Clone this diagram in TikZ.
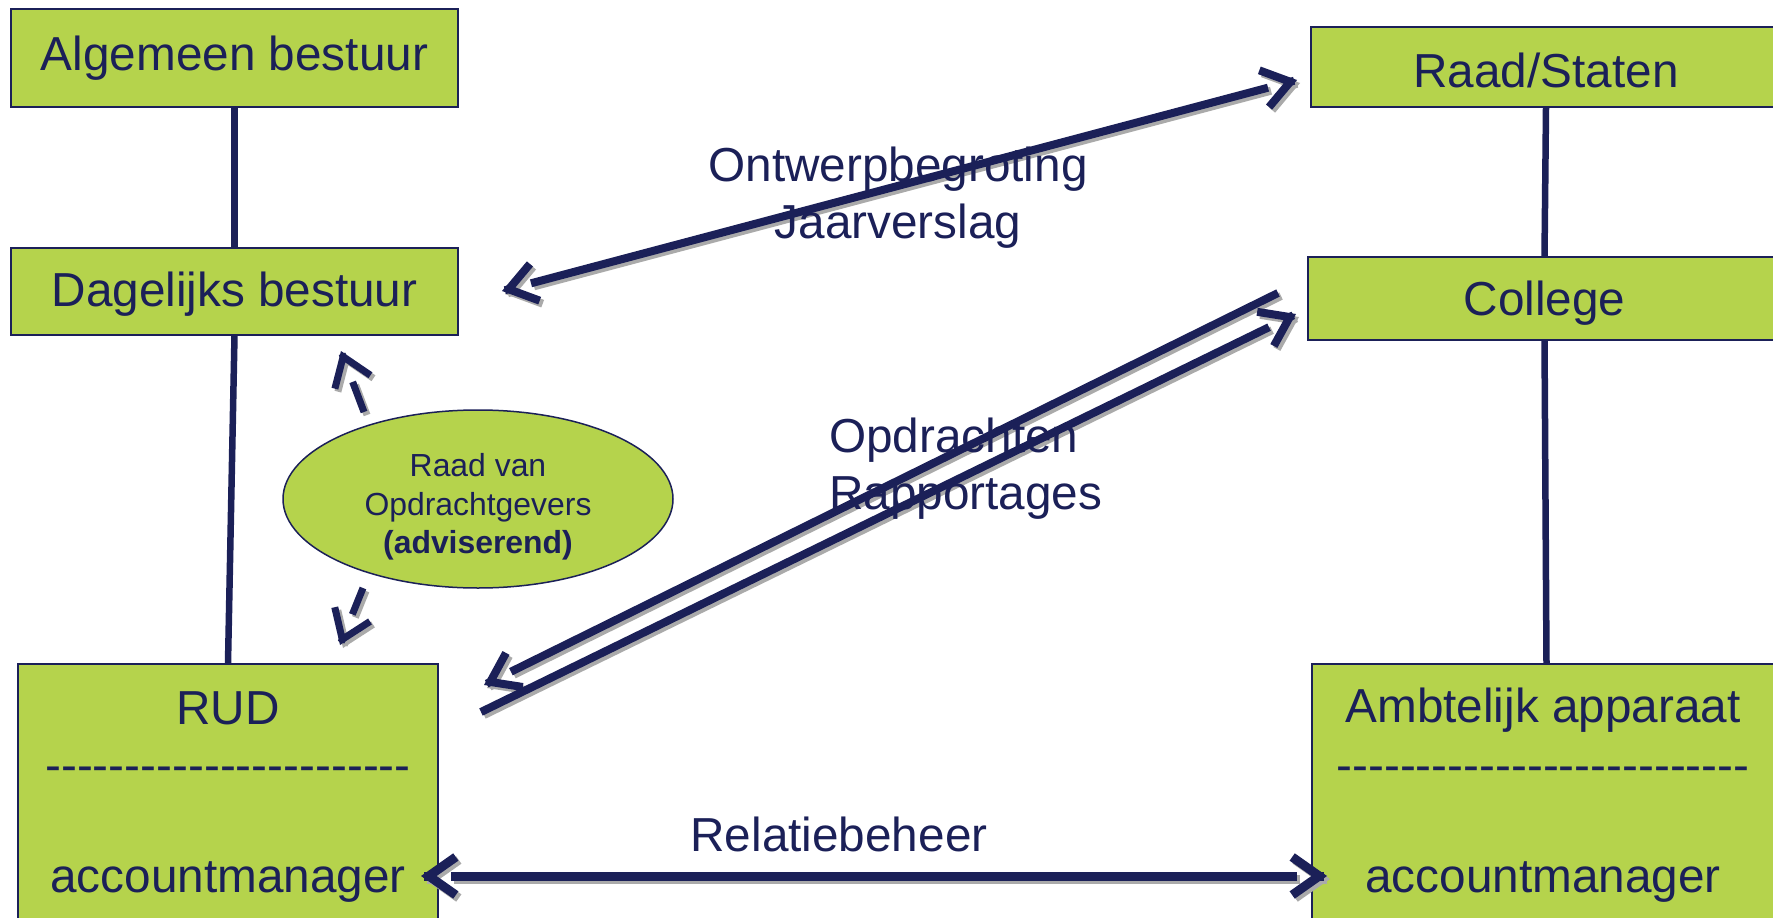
\documentclass[tikz,border=0pt]{standalone}
\usepackage{fontspec}
\setmainfont{Liberation Sans}
\usetikzlibrary{arrows.meta,shapes.geometric,calc}
\definecolor{navy}{RGB}{27,32,88}
\definecolor{lime}{RGB}{181,211,76}
\definecolor{shade}{RGB}{170,170,170}
\ExplSyntaxOn
\NewDocumentCommand\dashrow{m}{\prg_replicate:nn{#1}{-{}}}
\ExplSyntaxOff
% draw a path with a grey drop shadow below right
\newcommand\sdraw[2]{%
  \draw[#1, draw=shade, transform canvas={shift={(3pt,-3pt)}}] #2;
  \draw[#1] #2;}
% open chevron tip at #2, pointing away from #1
\newcommand\chev[3]{\sdraw{tipline, line width=#3}{($(#2)!3pt!(#1)$) -- (#2)}}
\begin{document}
\begin{tikzpicture}[x=1pt,y=-1pt,
  bigfont/.style={font=\fontsize{47.7}{57}\selectfont},
  box/.style={draw=navy, line width=1.5pt, fill=lime, rectangle, inner sep=0pt,
    text=navy, bigfont, text height=34pt, text depth=10pt},
  label/.style={text=navy, bigfont, inner sep=0pt},
  link/.style={draw=navy, line width=6.5pt},
  shaft/.style={draw=navy, line width=8pt},
  tipline/.style={draw=navy, -{Straight Barb[length=27pt,width=38pt]}}
]
\useasboundingbox (0,0) rectangle (1773,918);
\clip (0,0) rectangle (1773,918);
\fill[white] (0,0) rectangle (1773,918);

% boxes
\node[box, minimum width=447pt, minimum height=98pt] (alg) at (234.5,58) {Algemeen bestuur};
\node[box, minimum width=447pt, minimum height=87pt] (dag) at (234.5,291.5) {\raisebox{-3pt}{Dagelijks bestuur}};
\node[box, minimum width=470pt, minimum height=80pt] (raad) at (1546,67) {\raisebox{-8pt}{Raad/Staten}};
\node[box, minimum width=473pt, minimum height=83pt] (coll) at (1544.5,298.5) {\raisebox{-5pt}{College}};
\node[box, minimum width=420pt, minimum height=276pt] (rud) at (228,802) {};
\node[box, minimum width=469pt, minimum height=276pt] (amb) at (1546.5,802) {};

\node[label, anchor=base] (rudt) at (228,724) {RUD};
\node[label, anchor=base] (rudd) at (228,781) {\dashrow{23}};
\node[label, anchor=base] (ruda) at (228,892) {accountmanager};
\node[label, anchor=base] (ambt) at (1543,722) {Ambtelijk apparaat};
\node[label, anchor=base] (ambd) at (1543,781) {\dashrow{26}};
\node[label, anchor=base] (amba) at (1543,892) {accountmanager};

% ellipse
\node[ellipse, draw=navy, line width=1.5pt, fill=lime, minimum width=390pt, minimum height=178pt,
  inner sep=0pt] (rov) at (478,499) {};
\node[text=navy, align=center, font=\fontsize{31.9}{38.4}\selectfont, inner sep=0pt] (rovt)
  at ([yshift=-8pt]rov.center) {Raad van\\Opdrachtgevers\\\textbf{(adviserend)}};

% vertical links
\draw[link] (alg.south) -- (dag.north);
\draw[link] (dag.south) -- (rud.north);
\draw[link] (raad.south) -- (coll.north);
\draw[link] (coll.south) -- (amb.north);

% free arrow ends
\coordinate (o1) at (502,291);
\coordinate (o2) at (1297,80);
\coordinate (p1) at (1278,293);
\coordinate (p2) at (484,685);
\coordinate (q1) at (481,712);
\coordinate (q2) at (1296,314);
\coordinate (r1) at (421,876);
\coordinate (r2) at (1327,876);
\coordinate (d1) at (364,412);
\coordinate (d2) at (341,351);
\coordinate (e1) at (363,588);
\coordinate (e2) at (340,645);

% Ontwerpbegroting / Jaarverslag (two-headed)
\sdraw{shaft, shorten <=30pt, shorten >=30pt}{(o1) -- (o2)}
\chev{o2}{o1}{8pt}
\chev{o1}{o2}{8pt}
% Opdrachten (to RUD)
\sdraw{shaft, shorten >=30pt}{(p1) -- (p2)}
\chev{p1}{p2}{8pt}
% Rapportages (to College)
\sdraw{shaft, shorten >=30pt}{(q1) -- (q2)}
\chev{q1}{q2}{8pt}
% Relatiebeheer (two-headed)
\sdraw{shaft, line width=9pt, shorten <=30pt, shorten >=30pt}{(r1) -- (r2)}
\chev{r2}{r1}{9pt}
\chev{r1}{r2}{9pt}
% advisory arrows
\sdraw{shaft, line width=7pt, shorten >=33pt}{(d1) -- (d2)}
\chev{d1}{d2}{7pt}
\sdraw{shaft, line width=7pt, shorten >=33pt}{(e1) -- (e2)}
\chev{e1}{e2}{7pt}

% texts
\node[label, align=center] (ontw) at (898,198) {Ontwerpbegroting\\Jaarverslag};
\node[label, align=left, anchor=west] (opdr) at (829,469) {Opdrachten\\Rapportages};
\node[label] (rel) at (839,834) {Relatiebeheer};
\end{tikzpicture}
\end{document}
